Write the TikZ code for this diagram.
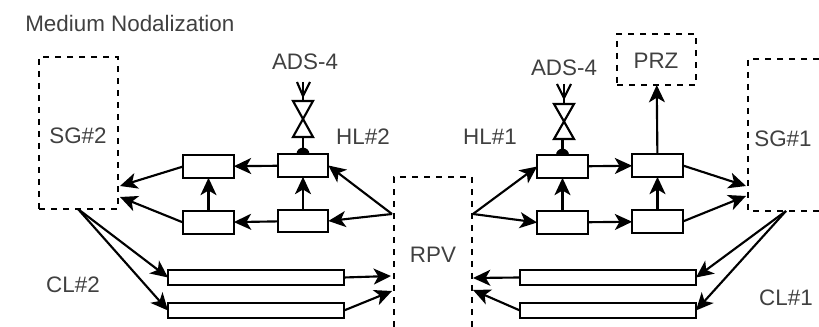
\documentclass[tikz,border=0pt]{standalone}
\usepackage{fontspec}
\setmainfont{Liberation Sans}
\usetikzlibrary{arrows.meta}
\tikzset{
	pipebox/.style={draw, line width=1.6pt, fill=white, minimum width=38pt, minimum height=17pt, inner sep=0pt, outer sep=0pt},
	longpipe/.style={draw, line width=1.6pt, fill=white, minimum width=132pt, minimum height=11.25pt, inner sep=0pt, outer sep=0pt},
	dashbox/.style={dash pattern=on 4.5pt off 4.5pt, line width=1.6pt},
	label/.style={text=black!75, font=\fontsize{16.8pt}{20pt}\selectfont, inner sep=0pt},
	flow/.style={-{Stealth[length=13pt,width=12pt,inset=3.5pt]}, line width=1.6pt},
	stem/.style={line width=1.6pt}
}
\begin{document}
\begin{tikzpicture}[x=0.75pt, y=-0.75pt]
	\useasboundingbox (0, 0) rectangle (819, 327);
	\node[label, anchor=west] (title) at (25, 23) {Medium Nodalization};

	% dashed vessels
	\node[dashbox, draw, minimum width=59.25pt, minimum height=114pt, inner sep=0pt, outer sep=0pt] (sgtwo) at (78.5, 133) {};
	\node[dashbox, draw, minimum width=59.25pt, minimum height=38.25pt, inner sep=0pt, outer sep=0pt] (prz) at (656.5, 59.5) {};
	\draw[dashbox] (394, 327) -- (394, 177) -- (472, 177) -- (472, 327);
	\draw[dashbox] (819, 59) -- (748, 59) -- (748, 211) -- (819, 211);
	\node[label] (sgtwolabel) at (78, 136) {SG\#2};
	\node[label] (przlabel) at (656, 61) {PRZ};
	\node[label] (rpvlabel) at (433, 255) {RPV};
	\node[label] (sgonelabel) at (783, 139) {SG\#1};
	\node[label] (cltwolabel) at (73, 285) {CL\#2};
	\node[label] (clonelabel) at (786, 298) {CL\#1};
	\node[label] (hltwolabel) at (363, 137) {HL\#2};
	\node[label] (hlonelabel) at (490, 137) {HL\#1};
	\node[label] (adstwo) at (305, 62) {ADS-4};
	\node[label] (adsone) at (564, 68) {ADS-4};

	% free ends on the vessels
	\coordinate (sgtwoa) at (120, 186);
	\coordinate (sgtwob) at (120, 197);
	\coordinate (sgtwoc) at (78, 209);
	\coordinate (sgonea) at (746, 186);
	\coordinate (sgoneb) at (746, 196);
	\coordinate (sgonec) at (786, 211);
	\coordinate (rpvleft) at (392, 214);
	\coordinate (rpvright) at (473, 214);
	\coordinate (rpvlefta) at (391, 276);
	\coordinate (rpvleftb) at (392, 291);
	\coordinate (rpvrighta) at (473, 278);
	\coordinate (rpvrightb) at (473, 290);

	% hot leg boxes
	\node[pipebox] (hltwoa) at (303, 165.5) {};
	\node[pipebox] (hltwob) at (303, 221) {};
	\node[pipebox] (hltwoc) at (208.5, 166.5) {};
	\node[pipebox] (hltwod) at (208.5, 222.5) {};
	\node[pipebox] (hlonea) at (562.5, 166.5) {};
	\node[pipebox] (hloneb) at (562.5, 222.5) {};
	\node[pipebox] (hlonec) at (657.5, 165.5) {};
	\node[pipebox] (hloned) at (657.5, 221.5) {};

	% cold leg boxes
	\node[longpipe] (cltwoa) at (256, 277.5) {};
	\node[longpipe] (cltwob) at (256, 310.5) {};
	\node[longpipe] (clonea) at (608, 277.5) {};
	\node[longpipe] (cloneb) at (608, 310.5) {};

	% loop 2
	\draw[flow] (rpvleft) -- (hltwoa.east);
	\draw[flow] (rpvleft) -- (hltwob.east);
	\draw[flow] (hltwob) -- (hltwoa);
	\draw[flow] (hltwod) -- (hltwoc);
	\draw[flow] (hltwoa) -- (hltwoc);
	\draw[flow] (hltwob) -- (hltwod);
	\draw[flow] (hltwoc.west) -- (sgtwoa);
	\draw[flow] (hltwod.west) -- (sgtwob);
	\draw[flow] (sgtwoc) -- (cltwoa.west);
	\draw[flow] (sgtwoc) -- (cltwob.west);
	\draw[flow] (cltwoa.east) -- (rpvlefta);
	\draw[flow] (cltwob.east) -- (rpvleftb);

	% loop 1
	\draw[flow] (rpvright) -- (hlonea.west);
	\draw[flow] (rpvright) -- (hloneb.west);
	\draw[flow] (hloneb) -- (hlonea);
	\draw[flow] (hloned) -- (hlonec);
	\draw[flow] (hlonea) -- (hlonec);
	\draw[flow] (hloneb) -- (hloned);
	\draw[flow] (hlonec.east) -- (sgonea);
	\draw[flow] (hloned.east) -- (sgoneb);
	\draw[flow] (hlonec) -- (prz);
	\draw[flow] (sgonec) -- (clonea.east);
	\draw[flow] (sgonec) -- (cloneb.east);
	\draw[flow] (clonea.west) -- (rpvrighta);
	\draw[flow] (cloneb.west) -- (rpvrightb);

	% ADS-4 valves
	\fill (hltwoa.north) ++(-4.9pt, 0) arc[start angle=180, end angle=0, radius=4.9pt];
	\coordinate (valvetwo) at (303, 137);
	\draw[stem] (hltwoa.north) -- (valvetwo);
	\draw[stem, fill=white] (293, 101) -- (313, 101) -- (293, 137) -- (313, 137) -- cycle;
	\draw[stem] (303, 82) -- (303, 101);
	\draw[stem] (297, 82) -- (303, 96) -- (310, 82);

	\fill (hlonea.north) ++(-4.9pt, 0) arc[start angle=180, end angle=0, radius=4.9pt];
	\coordinate (valveone) at (564, 139);
	\draw[stem] (hlonea.north) -- (hlonea.north |- valveone);
	\draw[stem, fill=white] (554, 104) -- (574, 104) -- (554, 139) -- (574, 139) -- cycle;
	\draw[stem] (564, 84) -- (564, 104);
	\draw[stem] (557, 84) -- (564, 98) -- (571, 84);
\end{tikzpicture}
\end{document}
